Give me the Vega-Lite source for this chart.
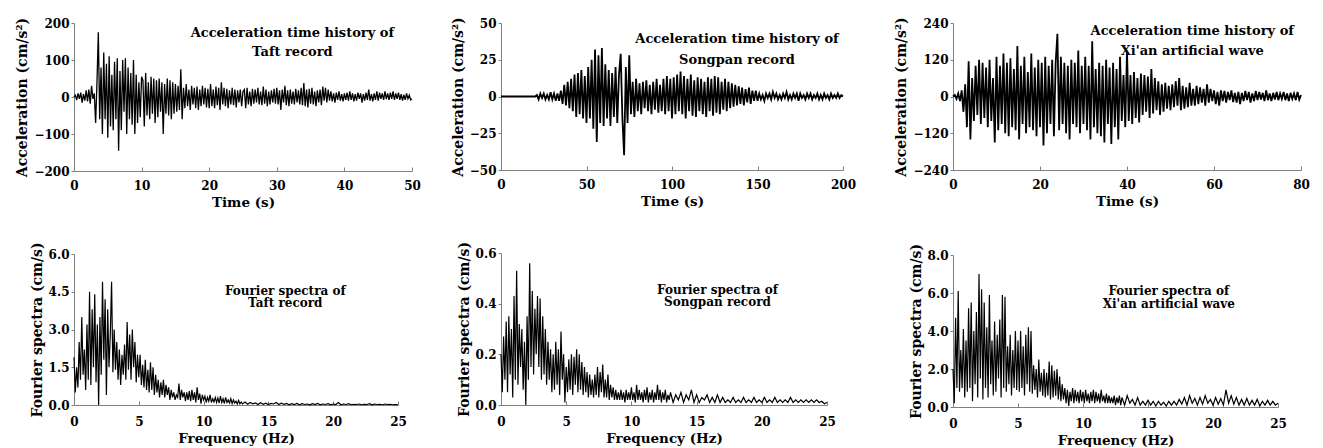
{
"$schema": "https://vega.github.io/schema/vega-lite/v6.json",
"padding": {"left": 15, "top": 16, "right": 0, "bottom": 0},
"background": "white",
"config": {
  "font": "DejaVu Serif",
  "view": {"stroke": null},
  "axis": {"grid": false, "domainColor": "#808080", "tickColor": "#808080", "labelColor": "#000", "titleColor": "#000", "labelFont": "DejaVu Serif", "titleFont": "DejaVu Serif", "labelFontWeight": "bold", "labelFontSize": 12, "titleFontSize": 13.5, "titleFontWeight": "bold", "domainWidth": 1, "tickWidth": 1},
  "axisX": {"tickSize": -4, "labelPadding": 15, "titlePadding": 4, "labelFlush": false},
  "axisY": {"tickSize": 3, "labelPadding": 2, "titlePadding": 4, "titleFontSize": 14},
  "text": {"font": "DejaVu Serif", "fontWeight": "bold", "color": "#000", "align": "center", "baseline": "top"},
  "line": {"color": "#000", "strokeWidth": 1.3}
},
"datasets": {
"taft": [
{"x":0,"y":0},{"x":0.2,"y":5},{"x":0.4,"y":-8},{"x":0.6,"y":10},{"x":0.8,"y":-5},{"x":1,"y":12},{"x":1.2,"y":-15},{"x":1.4,"y":8},{"x":1.6,"y":-10},{"x":1.8,"y":18},{"x":2,"y":-12},{"x":2.2,"y":20},{"x":2.4,"y":-18},{"x":2.6,"y":30},{"x":2.8,"y":-5},{"x":3,"y":10},
{"x":3.2,"y":-70},{"x":3.4,"y":40},{"x":3.6,"y":175},{"x":3.8,"y":-60},{"x":4,"y":80},
{"x":4.2,"y":-100},{"x":4.4,"y":120},{"x":4.6,"y":-60},{"x":4.8,"y":90},{"x":5,"y":-110},{"x":5.2,"y":110},{"x":5.4,"y":-80},{"x":5.6,"y":60},{"x":5.8,"y":-90},{"x":6,"y":95},{"x":6.2,"y":-60},{"x":6.4,"y":105},{"x":6.6,"y":-145},{"x":6.8,"y":70},{"x":7,"y":-90},{"x":7.2,"y":100},{"x":7.4,"y":-40},{"x":7.6,"y":105},{"x":7.8,"y":-100},{"x":8,"y":80},{"x":8.2,"y":-60},{"x":8.4,"y":65},{"x":8.6,"y":-75},{"x":8.8,"y":100},{"x":9,"y":-100},{"x":9.2,"y":60},{"x":9.4,"y":-70},{"x":9.6,"y":40},{"x":9.8,"y":-55},{"x":10,"y":55},
{"x":10.2,"y":45},{"x":10.4,"y":-80},{"x":10.6,"y":65},{"x":10.8,"y":-50},{"x":11,"y":40},{"x":11.2,"y":-60},{"x":11.4,"y":55},{"x":11.6,"y":-45},{"x":11.8,"y":50},{"x":12,"y":-70},{"x":12.2,"y":45},{"x":12.4,"y":-55},{"x":12.6,"y":50},{"x":12.8,"y":-40},{"x":13,"y":40},{"x":13.2,"y":-100},{"x":13.4,"y":35},{"x":13.6,"y":-45},{"x":13.8,"y":50},{"x":14,"y":-50},{"x":14.2,"y":45},{"x":14.4,"y":-60},{"x":14.6,"y":40},{"x":14.8,"y":-45},{"x":15,"y":35},{"x":15.2,"y":-40},{"x":15.4,"y":30},{"x":15.6,"y":-35},{"x":15.8,"y":75},{"x":16,"y":-60},
{"x":16.2,"y":25},{"x":16.4,"y":-30},{"x":16.6,"y":35},{"x":16.8,"y":-25},{"x":17,"y":20},{"x":17.2,"y":-35},{"x":17.4,"y":30},{"x":17.6,"y":-20},{"x":17.8,"y":25},{"x":18,"y":-30},{"x":18.2,"y":28},{"x":18.4,"y":-35},{"x":18.6,"y":20},{"x":18.8,"y":-25},{"x":19,"y":30},{"x":19.2,"y":-20},{"x":19.4,"y":25},{"x":19.6,"y":-28},{"x":19.8,"y":22},{"x":20,"y":-30},{"x":20.2,"y":35},{"x":20.4,"y":-25},{"x":20.6,"y":20},{"x":20.8,"y":-30},{"x":21,"y":28},{"x":21.2,"y":-22},{"x":21.4,"y":25},{"x":21.6,"y":-35},{"x":21.8,"y":40},{"x":22,"y":-20},{"x":22.2,"y":25},{"x":22.4,"y":-25},{"x":22.6,"y":22},{"x":22.8,"y":-30},{"x":23,"y":18},{"x":23.2,"y":-20},{"x":23.4,"y":25},{"x":23.6,"y":-22},{"x":23.8,"y":20},{"x":24,"y":-28},{"x":24.2,"y":18},{"x":24.4,"y":-15},{"x":24.6,"y":20},{"x":24.8,"y":-25},{"x":25,"y":15},
{"x":25.2,"y":20},{"x":25.4,"y":-30},{"x":25.6,"y":25},{"x":25.8,"y":-20},{"x":26,"y":15},{"x":26.2,"y":-25},{"x":26.4,"y":22},{"x":26.6,"y":-18},{"x":26.8,"y":20},{"x":27,"y":-15},{"x":27.2,"y":25},{"x":27.4,"y":-20},{"x":27.6,"y":15},{"x":27.8,"y":-22},{"x":28,"y":28},{"x":28.2,"y":-18},{"x":28.4,"y":20},{"x":28.6,"y":-25},{"x":28.8,"y":15},{"x":29,"y":-20},{"x":29.2,"y":18},{"x":29.4,"y":-15},{"x":29.6,"y":22},{"x":29.8,"y":-18},{"x":30,"y":25},{"x":30.2,"y":-20},{"x":30.4,"y":18},{"x":30.6,"y":-35},{"x":30.8,"y":20},{"x":31,"y":-15},{"x":31.2,"y":30},{"x":31.4,"y":-22},{"x":31.6,"y":18},{"x":31.8,"y":-25},{"x":32,"y":20},{"x":32.2,"y":-18},{"x":32.4,"y":15},{"x":32.6,"y":-20},{"x":32.8,"y":22},{"x":33,"y":-15},{"x":33.2,"y":18},{"x":33.4,"y":-20},{"x":33.6,"y":25},{"x":33.8,"y":-22},{"x":34,"y":38},{"x":34.2,"y":-25},{"x":34.4,"y":20},{"x":34.6,"y":-28},{"x":34.8,"y":22},{"x":35,"y":-18},{"x":35.2,"y":25},{"x":35.4,"y":-20},{"x":35.6,"y":15},{"x":35.8,"y":-25},{"x":36,"y":18},{"x":36.2,"y":-15},{"x":36.4,"y":20},{"x":36.6,"y":-22},{"x":36.8,"y":28},{"x":37,"y":-10},
{"x":37.2,"y":25},{"x":37.4,"y":-15},{"x":37.6,"y":20},{"x":37.8,"y":-10},{"x":38,"y":15},{"x":38.2,"y":-12},{"x":38.4,"y":10},{"x":38.6,"y":-15},{"x":38.8,"y":12},{"x":39,"y":-8},{"x":39.2,"y":15},{"x":39.4,"y":-10},{"x":39.6,"y":8},{"x":39.8,"y":-12},{"x":40,"y":10},{"x":40.2,"y":-8},{"x":40.4,"y":12},{"x":40.6,"y":-10},{"x":40.8,"y":15},{"x":41,"y":-8},{"x":41.2,"y":10},{"x":41.4,"y":-12},{"x":41.6,"y":8},{"x":41.8,"y":-10},{"x":42,"y":12},{"x":42.2,"y":-5},{"x":42.4,"y":10},{"x":42.6,"y":-15},{"x":42.8,"y":8},{"x":43,"y":-10},{"x":43.2,"y":12},{"x":43.4,"y":-8},{"x":43.6,"y":20},{"x":43.8,"y":-10},{"x":44,"y":8},{"x":44.2,"y":-12},{"x":44.4,"y":10},{"x":44.6,"y":-8},{"x":44.8,"y":15},{"x":45,"y":-10},{"x":45.2,"y":12},{"x":45.4,"y":-5},{"x":45.6,"y":10},{"x":45.8,"y":-8},{"x":46,"y":15},{"x":46.2,"y":-6},{"x":46.4,"y":10},{"x":46.6,"y":-8},{"x":46.8,"y":12},{"x":47,"y":-5},{"x":47.2,"y":15},{"x":47.4,"y":-8},{"x":47.6,"y":10},{"x":47.8,"y":-5},{"x":48,"y":12},{"x":48.2,"y":-8},{"x":48.4,"y":8},{"x":48.6,"y":-10},{"x":48.8,"y":6},{"x":49,"y":-8},{"x":49.2,"y":10},{"x":49.4,"y":-5},{"x":49.6,"y":5},{"x":49.8,"y":-8},{"x":50,"y":-5}
],
"song": [
{"x":0,"y":0},{"x":20,"y":0},
{"x":21,"y":1},{"x":22,"y":-2},{"x":23,"y":2},{"x":24,"y":-1},{"x":25,"y":2},{"x":26,"y":-2},{"x":27,"y":1},{"x":28,"y":-2},{"x":29,"y":3},{"x":30,"y":-2},{"x":31,"y":2},{"x":32,"y":-3},{"x":33,"y":2},{"x":34,"y":-3},{"x":35,"y":4},
{"x":36,"y":-5},{"x":37,"y":8},{"x":38,"y":-6},{"x":39,"y":10},{"x":40,"y":-8},{"x":41,"y":12},{"x":42,"y":-10},{"x":43,"y":15},{"x":44,"y":-14},{"x":45,"y":16},
{"x":46,"y":-12},{"x":47,"y":18},{"x":48,"y":-15},{"x":49,"y":14},{"x":50,"y":-18},{"x":51,"y":20},{"x":52,"y":-15},{"x":53,"y":25},{"x":54,"y":-22},{"x":55,"y":32},{"x":56,"y":-31},{"x":57,"y":28},{"x":58,"y":-18},{"x":59,"y":33},{"x":60,"y":-20},{"x":61,"y":22},{"x":62,"y":-15},{"x":63,"y":18},{"x":64,"y":-20},{"x":65,"y":16},{"x":66,"y":-14},{"x":67,"y":20},{"x":68,"y":-18},{"x":69,"y":15},{"x":70,"y":29},{"x":71,"y":-15},{"x":72,"y":-40},{"x":73,"y":20},{"x":74,"y":-18},{"x":75,"y":28},
{"x":76,"y":-12},{"x":77,"y":10},{"x":78,"y":-14},{"x":79,"y":12},{"x":80,"y":-10},{"x":81,"y":9},{"x":82,"y":-12},{"x":83,"y":10},{"x":84,"y":-8},{"x":85,"y":11},{"x":86,"y":-10},{"x":87,"y":8},{"x":88,"y":-12},{"x":89,"y":10},{"x":90,"y":-9},{"x":91,"y":12},{"x":92,"y":-11},{"x":93,"y":8},{"x":94,"y":-10},{"x":95,"y":12},
{"x":96,"y":-12},{"x":97,"y":14},{"x":98,"y":-10},{"x":99,"y":12},{"x":100,"y":-15},{"x":101,"y":13},{"x":102,"y":-12},{"x":103,"y":15},{"x":104,"y":-10},{"x":105,"y":17},{"x":106,"y":-12},{"x":107,"y":14},{"x":108,"y":-15},{"x":109,"y":12},{"x":110,"y":-10},{"x":111,"y":15},{"x":112,"y":-13},{"x":113,"y":11},{"x":114,"y":-14},{"x":115,"y":13},{"x":116,"y":-10},{"x":117,"y":12},{"x":118,"y":-12},{"x":119,"y":10},{"x":120,"y":-14},{"x":121,"y":13},{"x":122,"y":-10},{"x":123,"y":12},{"x":124,"y":-13},{"x":125,"y":14},{"x":126,"y":-11},{"x":127,"y":13},{"x":128,"y":-12},{"x":129,"y":10},{"x":130,"y":-9},{"x":131,"y":12},{"x":132,"y":-10},{"x":133,"y":10},{"x":134,"y":-8},{"x":135,"y":9},
{"x":136,"y":-7},{"x":137,"y":8},{"x":138,"y":-6},{"x":139,"y":7},{"x":140,"y":-5},{"x":141,"y":6},{"x":142,"y":-6},{"x":143,"y":5},{"x":144,"y":-4},{"x":145,"y":6},{"x":146,"y":-5},{"x":147,"y":4},{"x":148,"y":-3},{"x":149,"y":4},{"x":150,"y":-3},
{"x":151,"y":2},{"x":152,"y":-2},{"x":153,"y":1},{"x":154,"y":-3},{"x":155,"y":2},{"x":156,"y":-1},{"x":157,"y":2},{"x":158,"y":-2},{"x":159,"y":3},{"x":160,"y":-1},{"x":161,"y":2},{"x":162,"y":-2},{"x":163,"y":1},{"x":164,"y":-2},{"x":165,"y":2},{"x":166,"y":-1},{"x":167,"y":3},{"x":168,"y":-2},{"x":169,"y":1},{"x":170,"y":-2},{"x":171,"y":2},{"x":172,"y":-1},{"x":173,"y":2},{"x":174,"y":-3},{"x":175,"y":2},{"x":176,"y":-1},{"x":177,"y":1},{"x":178,"y":-2},{"x":179,"y":2},{"x":180,"y":-1},{"x":181,"y":2},{"x":182,"y":-2},{"x":183,"y":1},{"x":184,"y":-1},{"x":185,"y":2},{"x":186,"y":-2},{"x":187,"y":1},{"x":188,"y":-2},{"x":189,"y":2},{"x":190,"y":-1},{"x":191,"y":1},{"x":192,"y":-2},{"x":193,"y":2},{"x":194,"y":-1},{"x":195,"y":1},{"x":196,"y":-1},{"x":197,"y":2},{"x":198,"y":-1},{"x":199,"y":1},{"x":200,"y":0}
],
"xian": [
{"x":0,"y":0},{"x":0.4,"y":5},{"x":0.8,"y":-8},{"x":1.2,"y":10},{"x":1.6,"y":-15},{"x":2,"y":20},
{"x":2.4,"y":-50},{"x":2.8,"y":40},{"x":3.2,"y":-100},{"x":3.6,"y":115},{"x":4,"y":-140},{"x":4.4,"y":60},{"x":4.8,"y":-80},{"x":5.2,"y":100},{"x":5.6,"y":-60},{"x":6,"y":120},
{"x":6.4,"y":-90},{"x":6.8,"y":110},{"x":7.2,"y":-70},{"x":7.6,"y":95},{"x":8,"y":-100},{"x":8.4,"y":120},{"x":8.8,"y":-80},{"x":9.2,"y":60},{"x":9.6,"y":-150},{"x":10,"y":130},{"x":10.4,"y":-110},{"x":10.8,"y":100},{"x":11.2,"y":-90},{"x":11.6,"y":140},{"x":12,"y":-120},{"x":12.4,"y":110},{"x":12.8,"y":-130},{"x":13.2,"y":125},{"x":13.6,"y":-100},{"x":14,"y":90},{"x":14.4,"y":-110},{"x":14.8,"y":165},{"x":15.2,"y":-140},{"x":15.6,"y":100},{"x":16,"y":-90},{"x":16.4,"y":130},{"x":16.8,"y":-120},{"x":17.2,"y":80},{"x":17.6,"y":-100},{"x":18,"y":140},{"x":18.4,"y":-110},{"x":18.8,"y":95},{"x":19.2,"y":-130},{"x":19.6,"y":120},{"x":20,"y":-100},
{"x":20.4,"y":110},{"x":20.8,"y":-160},{"x":21.2,"y":130},{"x":21.6,"y":-120},{"x":22,"y":100},{"x":22.4,"y":-90},{"x":22.8,"y":120},{"x":23.2,"y":-130},{"x":23.6,"y":110},{"x":24,"y":205},{"x":24.4,"y":-110},{"x":24.8,"y":130},{"x":25.2,"y":-90},{"x":25.6,"y":110},{"x":26,"y":-120},{"x":26.4,"y":100},{"x":26.8,"y":-140},{"x":27.2,"y":120},{"x":27.6,"y":-90},{"x":28,"y":110},{"x":28.4,"y":-100},{"x":28.8,"y":150},{"x":29.2,"y":-120},{"x":29.6,"y":100},{"x":30,"y":-90},
{"x":30.4,"y":130},{"x":30.8,"y":-110},{"x":31.2,"y":100},{"x":31.6,"y":-140},{"x":32,"y":180},{"x":32.4,"y":-100},{"x":32.8,"y":90},{"x":33.2,"y":-120},{"x":33.6,"y":110},{"x":34,"y":-130},{"x":34.4,"y":100},{"x":34.8,"y":-150},{"x":35.2,"y":120},{"x":35.6,"y":-90},{"x":36,"y":95},{"x":36.4,"y":-155},{"x":36.8,"y":110},{"x":37.2,"y":-100},{"x":37.6,"y":90},{"x":38,"y":-140},{"x":38.4,"y":130},{"x":38.8,"y":-80},{"x":39.2,"y":70},{"x":39.6,"y":-100},{"x":40,"y":150},
{"x":40.4,"y":-80},{"x":40.8,"y":70},{"x":41.2,"y":-90},{"x":41.6,"y":80},{"x":42,"y":-70},{"x":42.4,"y":60},{"x":42.8,"y":-85},{"x":43.2,"y":75},{"x":43.6,"y":-60},{"x":44,"y":70},{"x":44.4,"y":-50},{"x":44.8,"y":65},{"x":45.2,"y":-70},{"x":45.6,"y":90},{"x":46,"y":-55},{"x":46.4,"y":60},{"x":46.8,"y":-45},{"x":47.2,"y":50},{"x":47.6,"y":-60},{"x":48,"y":40},{"x":48.4,"y":-50},{"x":48.8,"y":45},{"x":49.2,"y":-40},{"x":49.6,"y":35},{"x":50,"y":-45},
{"x":50.4,"y":40},{"x":50.8,"y":-35},{"x":51.2,"y":50},{"x":51.6,"y":-30},{"x":52,"y":60},{"x":52.4,"y":-45},{"x":52.8,"y":35},{"x":53.2,"y":-40},{"x":53.6,"y":30},{"x":54,"y":-35},{"x":54.4,"y":45},{"x":54.8,"y":-30},{"x":55.2,"y":25},{"x":55.6,"y":-30},{"x":56,"y":35},{"x":56.4,"y":-25},{"x":56.8,"y":30},{"x":57.2,"y":-20},{"x":57.6,"y":25},{"x":58,"y":-30},{"x":58.4,"y":40},{"x":58.8,"y":-20},{"x":59.2,"y":25},{"x":59.6,"y":-15},{"x":60,"y":20},
{"x":60.4,"y":-25},{"x":60.8,"y":15},{"x":61.2,"y":-30},{"x":61.6,"y":20},{"x":62,"y":-15},{"x":62.4,"y":18},{"x":62.8,"y":-20},{"x":63.2,"y":15},{"x":63.6,"y":-12},{"x":64,"y":20},{"x":64.4,"y":-18},{"x":64.8,"y":12},{"x":65.2,"y":-20},{"x":65.6,"y":15},{"x":66,"y":-25},{"x":66.4,"y":12},{"x":66.8,"y":-15},{"x":67.2,"y":18},{"x":67.6,"y":-12},{"x":68,"y":15},{"x":68.4,"y":-20},{"x":68.8,"y":10},{"x":69.2,"y":-15},{"x":69.6,"y":18},{"x":70,"y":-12},{"x":70.4,"y":15},{"x":70.8,"y":-10},{"x":71.2,"y":12},{"x":71.6,"y":-15},{"x":72,"y":20},{"x":72.4,"y":-12},{"x":72.8,"y":10},{"x":73.2,"y":-15},{"x":73.6,"y":12},{"x":74,"y":-10},{"x":74.4,"y":15},{"x":74.8,"y":-12},{"x":75.2,"y":10},{"x":75.6,"y":-8},{"x":76,"y":15},{"x":76.4,"y":-12},{"x":76.8,"y":10},{"x":77.2,"y":-15},{"x":77.6,"y":12},{"x":78,"y":-8},{"x":78.4,"y":10},{"x":78.8,"y":-12},{"x":79.2,"y":15},{"x":79.6,"y":-10},{"x":80,"y":5}
],
"ftaft": [
{"x":0,"y":1.9},{"x":0.1,"y":0.5},{"x":0.2,"y":1.5},{"x":0.3,"y":0.7},{"x":0.4,"y":2.5},{"x":0.5,"y":1.0},{"x":0.6,"y":3.5},{"x":0.7,"y":1.2},{"x":0.8,"y":2.2},{"x":0.9,"y":0.6},
{"x":1,"y":3.2},{"x":1.1,"y":1.0},{"x":1.2,"y":4.5},{"x":1.3,"y":0.8},{"x":1.4,"y":3.8},{"x":1.5,"y":1.5},{"x":1.6,"y":4.4},{"x":1.7,"y":0.9},{"x":1.8,"y":3.2},{"x":1.9,"y":0.0},
{"x":2,"y":3.5},{"x":2.1,"y":1.2},{"x":2.2,"y":4.9},{"x":2.3,"y":1.8},{"x":2.4,"y":4.2},{"x":2.5,"y":0.4},{"x":2.6,"y":3.8},{"x":2.7,"y":1.5},{"x":2.8,"y":2.8},{"x":2.9,"y":4.9},
{"x":3,"y":1.3},{"x":3.1,"y":3.0},{"x":3.2,"y":1.4},{"x":3.3,"y":2.5},{"x":3.4,"y":1.0},{"x":3.5,"y":2.2},{"x":3.6,"y":0.8},{"x":3.7,"y":2.0},{"x":3.8,"y":1.2},{"x":3.9,"y":2.4},
{"x":4,"y":1.0},{"x":4.1,"y":3.3},{"x":4.2,"y":1.4},{"x":4.3,"y":2.8},{"x":4.4,"y":1.0},{"x":4.5,"y":3.0},{"x":4.6,"y":1.5},{"x":4.7,"y":2.5},{"x":4.8,"y":0.9},{"x":4.9,"y":2.0},
{"x":5,"y":1.1},{"x":5.1,"y":2.0},{"x":5.2,"y":0.8},{"x":5.3,"y":1.6},{"x":5.4,"y":0.7},{"x":5.5,"y":1.8},{"x":5.6,"y":0.6},{"x":5.7,"y":1.4},{"x":5.8,"y":0.5},{"x":5.9,"y":1.7},
{"x":6,"y":0.6},{"x":6.1,"y":1.5},{"x":6.2,"y":0.4},{"x":6.3,"y":1.2},{"x":6.4,"y":0.5},{"x":6.5,"y":1.0},{"x":6.6,"y":0.3},{"x":6.7,"y":0.9},{"x":6.8,"y":0.4},{"x":6.9,"y":1.0},
{"x":7,"y":0.3},{"x":7.1,"y":0.8},{"x":7.2,"y":0.4},{"x":7.3,"y":0.7},{"x":7.4,"y":0.2},{"x":7.5,"y":0.6},{"x":7.6,"y":0.3},{"x":7.7,"y":0.5},{"x":7.8,"y":0.2},{"x":7.9,"y":0.4},
{"x":8,"y":0.3},{"x":8.1,"y":0.85},{"x":8.2,"y":0.2},{"x":8.3,"y":0.6},{"x":8.4,"y":0.3},{"x":8.5,"y":0.5},{"x":8.6,"y":0.15},{"x":8.7,"y":0.5},{"x":8.8,"y":0.2},{"x":8.9,"y":0.55},
{"x":9,"y":0.15},{"x":9.1,"y":0.6},{"x":9.2,"y":0.2},{"x":9.3,"y":0.5},{"x":9.4,"y":0.1},{"x":9.5,"y":0.7},{"x":9.6,"y":0.2},{"x":9.7,"y":0.45},{"x":9.8,"y":0.05},{"x":9.9,"y":0.4},
{"x":10,"y":0.2},{"x":10.1,"y":0.35},{"x":10.2,"y":0.1},{"x":10.3,"y":0.3},{"x":10.4,"y":0.15},{"x":10.5,"y":0.4},{"x":10.6,"y":0.1},{"x":10.7,"y":0.25},{"x":10.8,"y":0.12},{"x":10.9,"y":0.3},
{"x":11,"y":0.1},{"x":11.1,"y":0.28},{"x":11.2,"y":0.08},{"x":11.3,"y":0.35},{"x":11.4,"y":0.1},{"x":11.5,"y":0.25},{"x":11.6,"y":0.06},{"x":11.7,"y":0.3},{"x":11.8,"y":0.1},{"x":11.9,"y":0.2},
{"x":12,"y":0.08},{"x":12.1,"y":0.25},{"x":12.2,"y":0.05},{"x":12.3,"y":0.2},{"x":12.4,"y":0.08},{"x":12.5,"y":0.15},{"x":12.6,"y":0.04},{"x":12.7,"y":0.18},{"x":12.8,"y":0.05},{"x":12.9,"y":0.12},
{"x":13,"y":0.04},{"x":13.2,"y":0.12},{"x":13.4,"y":0.03},{"x":13.6,"y":0.1},{"x":13.8,"y":0.05},{"x":14,"y":0.08},{"x":14.2,"y":0.02},{"x":14.4,"y":0.09},{"x":14.6,"y":0.03},{"x":14.8,"y":0.07},
{"x":15,"y":0.02},{"x":15.2,"y":0.06},{"x":15.4,"y":0.04},{"x":15.6,"y":0.1},{"x":15.8,"y":0.02},{"x":16,"y":0.07},{"x":16.2,"y":0.03},{"x":16.4,"y":0.06},{"x":16.6,"y":0.01},{"x":16.8,"y":0.05},
{"x":17,"y":0.02},{"x":17.2,"y":0.06},{"x":17.4,"y":0.01},{"x":17.6,"y":0.05},{"x":17.8,"y":0.02},{"x":18,"y":0.04},{"x":18.2,"y":0.01},{"x":18.4,"y":0.05},{"x":18.6,"y":0.02},{"x":18.8,"y":0.06},
{"x":19,"y":0.01},{"x":19.2,"y":0.04},{"x":19.4,"y":0.02},{"x":19.6,"y":0.05},{"x":19.8,"y":0.01},{"x":20,"y":0.04},{"x":20.2,"y":0.02},{"x":20.4,"y":0.1},{"x":20.6,"y":0.01},{"x":20.8,"y":0.04},
{"x":21,"y":0.02},{"x":21.2,"y":0.05},{"x":21.4,"y":0.01},{"x":21.6,"y":0.03},{"x":21.8,"y":0.02},{"x":22,"y":0.04},{"x":22.2,"y":0.01},{"x":22.4,"y":0.03},{"x":22.6,"y":0.02},{"x":22.8,"y":0.05},
{"x":23,"y":0.01},{"x":23.2,"y":0.04},{"x":23.4,"y":0.02},{"x":23.6,"y":0.03},{"x":23.8,"y":0.01},{"x":24,"y":0.04},{"x":24.2,"y":0.02},{"x":24.4,"y":0.03},{"x":24.6,"y":0.01},{"x":24.8,"y":0.02},{"x":25,"y":0.01}
],
"fsong": [
{"x":0,"y":0.2},{"x":0.1,"y":0.05},{"x":0.2,"y":0.27},{"x":0.3,"y":0.1},{"x":0.4,"y":0.33},{"x":0.5,"y":0.05},{"x":0.6,"y":0.35},{"x":0.7,"y":0.12},{"x":0.8,"y":0.3},{"x":0.9,"y":0.03},
{"x":1,"y":0.43},{"x":1.1,"y":0.1},{"x":1.2,"y":0.53},{"x":1.3,"y":0.08},{"x":1.4,"y":0.32},{"x":1.5,"y":0.15},{"x":1.6,"y":0.3},{"x":1.7,"y":0.06},{"x":1.8,"y":0.25},{"x":1.9,"y":0.0},
{"x":2,"y":0.35},{"x":2.1,"y":0.1},{"x":2.2,"y":0.56},{"x":2.3,"y":0.15},{"x":2.4,"y":0.45},{"x":2.5,"y":0.12},{"x":2.6,"y":0.38},{"x":2.7,"y":0.2},{"x":2.8,"y":0.43},{"x":2.9,"y":0.15},
{"x":3,"y":0.42},{"x":3.1,"y":0.1},{"x":3.2,"y":0.35},{"x":3.3,"y":0.12},{"x":3.4,"y":0.3},{"x":3.5,"y":0.08},{"x":3.6,"y":0.25},{"x":3.7,"y":0.1},{"x":3.8,"y":0.22},{"x":3.9,"y":0.05},
{"x":4,"y":0.2},{"x":4.1,"y":0.06},{"x":4.2,"y":0.25},{"x":4.3,"y":0.08},{"x":4.4,"y":0.22},{"x":4.5,"y":0.04},{"x":4.6,"y":0.29},{"x":4.7,"y":0.1},{"x":4.8,"y":0.2},{"x":4.9,"y":0.01},
{"x":5,"y":0.15},{"x":5.1,"y":0.05},{"x":5.2,"y":0.18},{"x":5.3,"y":0.06},{"x":5.4,"y":0.2},{"x":5.5,"y":0.04},{"x":5.6,"y":0.19},{"x":5.7,"y":0.08},{"x":5.8,"y":0.22},{"x":5.9,"y":0.05},
{"x":6,"y":0.2},{"x":6.1,"y":0.06},{"x":6.2,"y":0.17},{"x":6.3,"y":0.04},{"x":6.4,"y":0.15},{"x":6.5,"y":0.05},{"x":6.6,"y":0.13},{"x":6.7,"y":0.03},{"x":6.8,"y":0.12},{"x":6.9,"y":0.04},
{"x":7,"y":0.1},{"x":7.1,"y":0.03},{"x":7.2,"y":0.12},{"x":7.3,"y":0.04},{"x":7.4,"y":0.15},{"x":7.5,"y":0.03},{"x":7.6,"y":0.13},{"x":7.7,"y":0.05},{"x":7.8,"y":0.16},{"x":7.9,"y":0.03},
{"x":8,"y":0.1},{"x":8.1,"y":0.03},{"x":8.2,"y":0.12},{"x":8.3,"y":0.02},{"x":8.4,"y":0.08},{"x":8.5,"y":0.03},{"x":8.6,"y":0.07},{"x":8.7,"y":0.02},{"x":8.8,"y":0.06},{"x":8.9,"y":0.02},
{"x":9,"y":0.05},{"x":9.1,"y":0.02},{"x":9.2,"y":0.06},{"x":9.3,"y":0.02},{"x":9.4,"y":0.05},{"x":9.5,"y":0.01},{"x":9.6,"y":0.06},{"x":9.7,"y":0.02},{"x":9.8,"y":0.05},{"x":9.9,"y":0.02},
{"x":10,"y":0.07},{"x":10.1,"y":0.02},{"x":10.2,"y":0.05},{"x":10.3,"y":0.01},{"x":10.4,"y":0.08},{"x":10.5,"y":0.02},{"x":10.6,"y":0.06},{"x":10.7,"y":0.02},{"x":10.8,"y":0.05},{"x":10.9,"y":0.01},
{"x":11,"y":0.06},{"x":11.1,"y":0.02},{"x":11.2,"y":0.07},{"x":11.3,"y":0.01},{"x":11.4,"y":0.05},{"x":11.5,"y":0.02},{"x":11.6,"y":0.06},{"x":11.7,"y":0.01},{"x":11.8,"y":0.05},{"x":11.9,"y":0.02},
{"x":12,"y":0.08},{"x":12.1,"y":0.02},{"x":12.2,"y":0.06},{"x":12.3,"y":0.01},{"x":12.4,"y":0.05},{"x":12.5,"y":0.02},{"x":12.6,"y":0.06},{"x":12.7,"y":0.01},{"x":12.8,"y":0.04},{"x":12.9,"y":0.02},
{"x":13,"y":0.05},{"x":13.2,"y":0.01},{"x":13.4,"y":0.04},{"x":13.6,"y":0.02},{"x":13.8,"y":0.05},{"x":14,"y":0.01},{"x":14.2,"y":0.04},{"x":14.4,"y":0.02},{"x":14.6,"y":0.06},{"x":14.8,"y":0.01},
{"x":15,"y":0.04},{"x":15.2,"y":0.01},{"x":15.4,"y":0.03},{"x":15.6,"y":0.02},{"x":15.8,"y":0.04},{"x":16,"y":0.01},{"x":16.2,"y":0.03},{"x":16.4,"y":0.01},{"x":16.6,"y":0.04},{"x":16.8,"y":0.01},
{"x":17,"y":0.03},{"x":17.2,"y":0.01},{"x":17.4,"y":0.02},{"x":17.6,"y":0.01},{"x":17.8,"y":0.03},{"x":18,"y":0.01},{"x":18.2,"y":0.02},{"x":18.4,"y":0.01},{"x":18.6,"y":0.03},{"x":18.8,"y":0.01},
{"x":19,"y":0.02},{"x":19.2,"y":0.01},{"x":19.4,"y":0.03},{"x":19.6,"y":0.01},{"x":19.8,"y":0.02},{"x":20,"y":0.01},{"x":20.2,"y":0.03},{"x":20.4,"y":0.01},{"x":20.6,"y":0.02},{"x":20.8,"y":0.01},
{"x":21,"y":0.03},{"x":21.2,"y":0.01},{"x":21.4,"y":0.02},{"x":21.6,"y":0.01},{"x":21.8,"y":0.02},{"x":22,"y":0.01},{"x":22.2,"y":0.03},{"x":22.4,"y":0.01},{"x":22.6,"y":0.02},{"x":22.8,"y":0.01},
{"x":23,"y":0.02},{"x":23.2,"y":0.01},{"x":23.4,"y":0.02},{"x":23.6,"y":0.01},{"x":23.8,"y":0.02},{"x":24,"y":0.01},{"x":24.2,"y":0.02},{"x":24.4,"y":0.01},{"x":24.6,"y":0.015},{"x":24.8,"y":0.005},{"x":25,"y":0.01}
],
"fxian": [
{"x":0,"y":2.0},{"x":0.1,"y":0.2},{"x":0.2,"y":4.7},{"x":0.3,"y":1.0},{"x":0.4,"y":6.1},{"x":0.5,"y":0.8},{"x":0.6,"y":3.0},{"x":0.7,"y":1.0},{"x":0.8,"y":4.1},{"x":0.9,"y":0.5},
{"x":1,"y":3.5},{"x":1.1,"y":0.8},{"x":1.2,"y":5.2},{"x":1.3,"y":1.0},{"x":1.4,"y":5.5},{"x":1.5,"y":0.3},{"x":1.6,"y":4.0},{"x":1.7,"y":1.2},{"x":1.8,"y":5.0},{"x":1.9,"y":0.5},
{"x":2,"y":7.0},{"x":2.1,"y":1.5},{"x":2.2,"y":6.2},{"x":2.3,"y":0.4},{"x":2.4,"y":5.5},{"x":2.5,"y":1.0},{"x":2.6,"y":4.2},{"x":2.7,"y":0.5},{"x":2.8,"y":5.9},{"x":2.9,"y":1.2},
{"x":3,"y":3.5},{"x":3.1,"y":0.6},{"x":3.2,"y":4.5},{"x":3.3,"y":0.8},{"x":3.4,"y":3.8},{"x":3.5,"y":1.5},{"x":3.6,"y":4.6},{"x":3.7,"y":0.5},{"x":3.8,"y":5.9},{"x":3.9,"y":1.0},
{"x":4,"y":5.8},{"x":4.1,"y":0.8},{"x":4.2,"y":3.2},{"x":4.3,"y":1.2},{"x":4.4,"y":3.8},{"x":4.5,"y":0.6},{"x":4.6,"y":3.0},{"x":4.7,"y":1.0},{"x":4.8,"y":4.0},{"x":4.9,"y":0.9},
{"x":5,"y":3.5},{"x":5.1,"y":0.8},{"x":5.2,"y":4.0},{"x":5.3,"y":1.0},{"x":5.4,"y":3.2},{"x":5.5,"y":0.6},{"x":5.6,"y":3.8},{"x":5.7,"y":1.2},{"x":5.8,"y":4.2},{"x":5.9,"y":0.8},
{"x":6,"y":4.0},{"x":6.1,"y":0.7},{"x":6.2,"y":2.2},{"x":6.3,"y":0.9},{"x":6.4,"y":2.0},{"x":6.5,"y":0.5},{"x":6.6,"y":2.5},{"x":6.7,"y":0.8},{"x":6.8,"y":1.8},{"x":6.9,"y":0.6},
{"x":7,"y":2.0},{"x":7.1,"y":0.5},{"x":7.2,"y":1.8},{"x":7.3,"y":0.6},{"x":7.4,"y":2.4},{"x":7.5,"y":0.4},{"x":7.6,"y":2.2},{"x":7.7,"y":0.5},{"x":7.8,"y":1.9},{"x":7.9,"y":0.6},
{"x":8,"y":2.0},{"x":8.1,"y":0.4},{"x":8.2,"y":1.6},{"x":8.3,"y":0.3},{"x":8.4,"y":1.2},{"x":8.5,"y":0.4},{"x":8.6,"y":1.0},{"x":8.7,"y":0.2},{"x":8.8,"y":0.9},{"x":8.9,"y":0.05},
{"x":9,"y":0.8},{"x":9.1,"y":0.3},{"x":9.2,"y":1.0},{"x":9.3,"y":0.2},{"x":9.4,"y":0.9},{"x":9.5,"y":0.3},{"x":9.6,"y":0.8},{"x":9.7,"y":0.2},{"x":9.8,"y":0.9},{"x":9.9,"y":0.3},
{"x":10,"y":0.8},{"x":10.1,"y":0.2},{"x":10.2,"y":0.9},{"x":10.3,"y":0.3},{"x":10.4,"y":0.7},{"x":10.5,"y":0.2},{"x":10.6,"y":0.8},{"x":10.7,"y":0.3},{"x":10.8,"y":0.9},{"x":10.9,"y":0.2},
{"x":11,"y":0.8},{"x":11.1,"y":0.3},{"x":11.2,"y":0.7},{"x":11.3,"y":0.2},{"x":11.4,"y":0.9},{"x":11.5,"y":0.3},{"x":11.6,"y":0.6},{"x":11.7,"y":0.2},{"x":11.8,"y":0.7},{"x":11.9,"y":0.2},
{"x":12,"y":0.6},{"x":12.1,"y":0.2},{"x":12.2,"y":0.5},{"x":12.3,"y":0.2},{"x":12.4,"y":0.6},{"x":12.5,"y":0.1},{"x":12.6,"y":0.5},{"x":12.7,"y":0.2},{"x":12.8,"y":0.6},{"x":12.9,"y":0.1},
{"x":13,"y":0.5},{"x":13.2,"y":0.1},{"x":13.4,"y":0.6},{"x":13.6,"y":0.2},{"x":13.8,"y":0.4},{"x":14,"y":0.1},{"x":14.2,"y":0.5},{"x":14.4,"y":0.1},{"x":14.6,"y":0.3},{"x":14.8,"y":0.1},
{"x":15,"y":0.35},{"x":15.2,"y":0.1},{"x":15.4,"y":0.3},{"x":15.6,"y":0.05},{"x":15.8,"y":0.3},{"x":16,"y":0.1},{"x":16.2,"y":0.25},{"x":16.4,"y":0.05},{"x":16.6,"y":0.3},{"x":16.8,"y":0.1},
{"x":17,"y":0.3},{"x":17.2,"y":0.1},{"x":17.4,"y":0.4},{"x":17.6,"y":0.15},{"x":17.8,"y":0.5},{"x":18,"y":0.1},{"x":18.2,"y":0.6},{"x":18.4,"y":0.2},{"x":18.6,"y":0.45},{"x":18.8,"y":0.1},
{"x":19,"y":0.5},{"x":19.2,"y":0.15},{"x":19.4,"y":0.6},{"x":19.6,"y":0.2},{"x":19.8,"y":0.4},{"x":20,"y":0.1},{"x":20.2,"y":0.5},{"x":20.4,"y":0.15},{"x":20.6,"y":0.45},{"x":20.8,"y":0.1},
{"x":21,"y":0.9},{"x":21.2,"y":0.2},{"x":21.4,"y":0.6},{"x":21.6,"y":0.15},{"x":21.8,"y":0.5},{"x":22,"y":0.1},{"x":22.2,"y":0.4},{"x":22.4,"y":0.1},{"x":22.6,"y":0.45},{"x":22.8,"y":0.1},
{"x":23,"y":0.35},{"x":23.2,"y":0.1},{"x":23.4,"y":0.4},{"x":23.6,"y":0.05},{"x":23.8,"y":0.3},{"x":24,"y":0.1},{"x":24.2,"y":0.35},{"x":24.4,"y":0.1},{"x":24.6,"y":0.3},{"x":24.8,"y":0.1},{"x":25,"y":0.2}
]
},
"spacing": 30,
"hconcat": [
  {"bounds": "flush", "spacing": 83, "vconcat": [
    {"width": 338, "height": 148, "data": {"name": "taft"},
     "encoding": {
       "x": {"field": "x", "type": "quantitative", "scale": {"domain": [0, 50], "nice": false}, "axis": {"values": [0, 10, 20, 30, 40, 50], "title": "Time (s)", "labelPadding": 13}},
       "y": {"field": "y", "type": "quantitative", "scale": {"domain": [-200, 200], "nice": false}, "axis": {"values": [-200, -100, 0, 100, 200], "title": "Acceleration (cm/s²)"}}},
     "layer": [
       {"mark": {"type": "line"}},
       {"transform": [{"filter": "datum.x == 0"}], "mark": {"type": "text", "fontSize": 13, "lineHeight": 19}, "encoding": {"x": {"datum": 32.3}, "y": {"datum": 189}, "text": {"value": ["Acceleration time history of", "Taft record"]}}}
     ]},
    {"width": 324, "height": 151, "data": {"name": "ftaft"},
     "encoding": {
       "x": {"field": "x", "type": "quantitative", "scale": {"domain": [0, 25], "nice": false}, "axis": {"values": [0, 5, 10, 15, 20, 25], "title": "Frequency (Hz)"}},
       "y": {"field": "y", "type": "quantitative", "scale": {"domain": [0, 6], "nice": false}, "axis": {"values": [0, 1.5, 3, 4.5, 6], "format": ".1f", "title": "Fourier spectra (cm/s)"}}},
     "layer": [
       {"mark": {"type": "line", "strokeWidth": 1.2}},
       {"transform": [{"filter": "datum.x == 0"}], "mark": {"type": "text", "fontSize": 12, "lineHeight": 12}, "encoding": {"x": {"datum": 16.3}, "y": {"datum": 4.73}, "text": {"value": ["Fourier spectra of", "Taft record"]}}}
     ]}
  ]},
  {"spacing": 38, "hconcat": [
    {"bounds": "flush", "spacing": 83, "vconcat": [
      {"width": 342, "height": 147, "data": {"name": "song"},
       "encoding": {
         "x": {"field": "x", "type": "quantitative", "scale": {"domain": [0, 200], "nice": false}, "axis": {"values": [0, 50, 100, 150, 200], "title": "Time (s)", "labelPadding": 13}},
         "y": {"field": "y", "type": "quantitative", "scale": {"domain": [-50, 50], "nice": false}, "axis": {"values": [-50, -25, 0, 25, 50], "title": "Acceleration (cm/s²)"}}},
       "layer": [
         {"mark": {"type": "line", "strokeWidth": 1.8}},
         {"transform": [{"filter": "datum.x == 0"}], "mark": {"type": "text", "fontSize": 13, "lineHeight": 21}, "encoding": {"x": {"datum": 138}, "y": {"datum": 43}, "text": {"value": ["Acceleration time history of", "Songpan record"]}}}
       ]},
      {"width": 326, "height": 152, "data": {"name": "fsong"},
       "encoding": {
         "x": {"field": "x", "type": "quantitative", "scale": {"domain": [0, 25], "nice": false}, "axis": {"values": [0, 5, 10, 15, 20, 25], "title": "Frequency (Hz)"}},
         "y": {"field": "y", "type": "quantitative", "scale": {"domain": [0, 0.6], "nice": false}, "axis": {"values": [0, 0.2, 0.4, 0.6], "format": ".1f", "title": "Fourier spectra (cm/s)"}}},
       "layer": [
         {"mark": {"type": "line", "strokeWidth": 1.2}},
         {"transform": [{"filter": "datum.x == 0"}], "mark": {"type": "text", "fontSize": 12, "lineHeight": 12}, "encoding": {"x": {"datum": 16.6}, "y": {"datum": 0.474}, "text": {"value": ["Fourier spectra of", "Songpan record"]}}}
       ]}
    ]},
    {"bounds": "flush", "spacing": 85, "vconcat": [
      {"width": 348, "height": 147, "data": {"name": "xian"},
       "encoding": {
         "x": {"field": "x", "type": "quantitative", "scale": {"domain": [0, 80], "nice": false}, "axis": {"values": [0, 20, 40, 60, 80], "title": "Time (s)", "labelPadding": 13}},
         "y": {"field": "y", "type": "quantitative", "scale": {"domain": [-240, 240], "nice": false}, "axis": {"values": [-240, -120, 0, 120, 240], "title": "Acceleration (cm/s²)"}}},
       "layer": [
         {"mark": {"type": "line", "strokeWidth": 1.8}},
         {"transform": [{"filter": "datum.x == 0"}], "mark": {"type": "text", "fontSize": 13, "lineHeight": 20}, "encoding": {"x": {"datum": 55}, "y": {"datum": 235}, "text": {"value": ["Acceleration time history of", "Xi'an artificial wave"]}}}
       ]},
      {"width": 325, "height": 152, "data": {"name": "fxian"},
       "encoding": {
         "x": {"field": "x", "type": "quantitative", "scale": {"domain": [0, 25], "nice": false}, "axis": {"values": [0, 5, 10, 15, 20, 25], "title": "Frequency (Hz)"}},
         "y": {"field": "y", "type": "quantitative", "scale": {"domain": [0, 8], "nice": false}, "axis": {"values": [0, 2, 4, 6, 8], "format": ".1f", "title": "Fourier spectra (cm/s)"}}},
       "layer": [
         {"mark": {"type": "line", "strokeWidth": 1.2}},
         {"transform": [{"filter": "datum.x == 0"}], "mark": {"type": "text", "fontSize": 12, "lineHeight": 13}, "encoding": {"x": {"datum": 16.6}, "y": {"datum": 6.36}, "text": {"value": ["Fourier spectra of", "Xi'an artificial wave"]}}}
       ]}
    ]}
  ]}
]
}
